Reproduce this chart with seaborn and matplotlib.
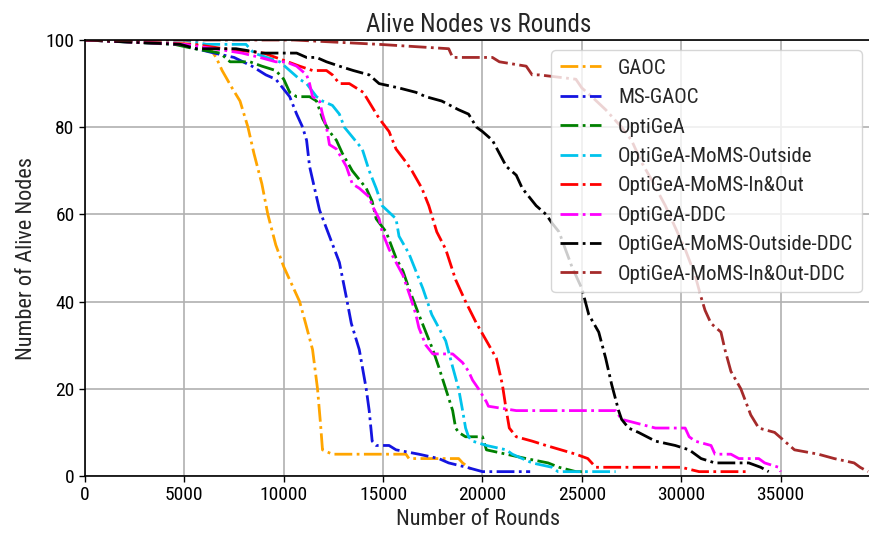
import matplotlib
matplotlib.use("Agg")
import matplotlib.pyplot as plt
from matplotlib import font_manager
import seaborn as sns
import pandas as pd

# ---------------- data ----------------
labels = ["GAOC", "MS-GAOC", "OptiGeA", "OptiGeA-MoMS-Outside", "OptiGeA-MoMS-In&Out",
          "OptiGeA-DDC", "OptiGeA-MoMS-Outside-DDC", "OptiGeA-MoMS-In&Out-DDC"]
colors = ["orange", "#1414e0", "green", "#00c3ec", "red", "magenta", "black", "brown"]

gaoc_x = [0, 5500, 6300, 6600, 6900, 7400, 7800, 8200, 8500, 8900, 9200, 9600, 10000, 10400,
          10800, 11100, 11450, 11700, 11850, 11950, 12450, 16150, 16300, 18800, 19000, 19300, 19600]
gaoc_y = [100, 99, 98, 96, 93, 89, 86, 80, 74, 67, 60, 53, 48, 44,
          40, 35, 29, 20, 12, 6, 5, 5, 4, 4, 3, 2, 1]

msgaoc_x = [0, 4800, 5600, 6500, 7500, 8400, 9100, 9600, 9950, 10300, 10650, 10950, 11150, 11300,
            11800, 12300, 12800, 13150, 13400, 13800, 14150, 14300, 14450, 14650, 15300, 15650,
            16800, 17800, 18300, 19200, 20000, 22400]
msgaoc_y = [100, 99, 98, 97, 96, 94, 92, 91, 89, 87, 83, 80, 77, 71,
            61, 55, 49, 41, 35, 29, 20, 15, 8, 7, 7, 6,
            5, 4, 3, 2, 1, 1]

opt_x = [0, 4500, 5500, 6800, 7300, 8300, 8900, 9600, 10000, 10300, 10650, 11300, 11650, 11950,
         12300, 12650, 12950, 13450, 14150, 14450, 14650, 15150, 15650, 16000, 16300, 16800, 17150,
         17500, 17800, 18150, 18500, 18650, 18800, 19150, 20000, 20200, 21200, 22200, 23300, 23850,
         24700, 25000]
opt_y = [100, 99, 98, 97, 95, 95, 94, 93, 91, 88, 87, 87, 86, 82,
         79, 77, 74, 70, 66, 63, 59, 56, 50, 47, 43, 37, 33,
         29, 25, 20, 15, 11, 10, 9, 9, 6, 5, 4, 3, 2,
         1, 1]

out_x = [0, 5000, 6100, 8100, 8500, 9800, 10300, 10800, 11150, 11650, 11950, 12450, 12800, 13050,
         13950, 14300, 14650, 14950, 15650, 15800, 16300, 16650, 17000, 17450, 18150, 18500, 18800,
         19000, 19150, 19300, 19500, 20200, 21200, 21500, 22500, 23500, 23800, 26700]
out_y = [100, 100, 99, 99, 97, 95, 93, 91, 90, 87, 86, 85, 83, 80,
         75, 70, 66, 62, 59, 55, 51, 47, 43, 37, 31, 25, 20,
         15, 11, 9, 8, 7, 6, 5, 3, 2, 1, 1]

inout_x = [0, 5500, 7000, 9000, 10800, 11450, 12150, 12450, 12800, 13300, 14000, 14800, 15300,
           15650, 16150, 16450, 16950, 17300, 17700, 18150, 18650, 19150, 19700, 20200, 20700,
           21000, 21200, 21350, 21700, 22500, 23200, 24700, 25300, 25700, 30000, 30900, 33400]
inout_y = [100, 99, 98, 97, 94, 93, 93, 92, 90, 90, 88, 82, 79,
           75, 72, 70, 66, 62, 56, 52, 45, 40, 35, 31, 27,
           21, 15, 11, 9, 8, 7, 5, 4, 2, 2, 1, 1]

ddc_x = [0, 5000, 6500, 7900, 8800, 9600, 10100, 10650, 11150, 11300, 11450, 11800, 11950, 12150,
         12300, 12650, 13150, 13450, 13800, 14300, 14450, 14800, 14950, 15300, 15650, 16000, 16150,
         16450, 16650, 16800, 17150, 17500, 18500, 19000, 19300, 19500, 19800, 20200, 20300, 21700,
         26700, 27000, 27850, 28700, 30200, 30400, 30700, 31500, 31700, 32500, 32900, 33900, 34200,
         34900, 35000]
ddc_y = [100, 99, 98, 97, 96, 95, 95, 94, 92, 90, 87, 86, 83, 80,
         76, 75, 71, 67, 66, 64, 62, 59, 56, 52, 49, 46, 44,
         40, 37, 34, 30, 28, 28, 26, 24, 22, 20, 17, 16, 15,
         15, 13, 12, 11, 11, 9, 8, 7, 5, 5, 4, 4, 3,
         2, 1]

outddc_x = [0, 4800, 5600, 7600, 8950, 10650, 11150, 11650, 12150, 12800, 13500, 14300, 14800,
            15800, 16650, 17150, 17950, 18800, 19300, 19700, 20000, 20500, 20850, 21200, 21700,
            22000, 22350, 22700, 23200, 23500, 23850, 24500, 25000, 25350, 25850, 26200, 26500,
            26850, 27000, 27350, 27850, 28700, 29700, 30400, 31000, 31700, 33400, 34000, 34400]
outddc_y = [100, 99, 98, 98, 97, 97, 96, 96, 95, 94, 93, 92, 90,
            89, 88, 87, 86, 84, 83, 80, 79, 77, 74, 71, 69,
            66, 64, 62, 60, 58, 56, 48, 43, 37, 33, 27, 21,
            15, 13, 11, 10, 8, 7, 6, 4, 3, 3, 2, 1]

inoutddc_x = [0, 10500, 14800, 18300, 18500, 20500, 20850, 22200, 22500, 22850, 24700, 25000,
              25500, 26200, 27000, 27500, 28000, 28500, 29200, 29700, 30200, 30700, 31000, 31200,
              31500, 32000, 32200, 32500, 33000, 33500, 33900, 34700, 35200, 35700, 36900, 37700,
              38700, 39000, 39400]
inoutddc_y = [100, 100, 99, 98, 96, 96, 95, 94, 92, 92, 91, 89,
              87, 84, 80, 77, 72, 68, 62, 57, 52, 46, 41, 38,
              35, 33, 29, 24, 20, 14, 11, 10, 8, 6, 5, 4,
              3, 2, 1]

series_x = [gaoc_x, msgaoc_x, opt_x, out_x, inout_x, ddc_x, outddc_x, inoutddc_x]
series_y = [gaoc_y, msgaoc_y, opt_y, out_y, inout_y, ddc_y, outddc_y, inoutddc_y]

x_ticks = [0, 5000, 10000, 15000, 20000, 25000, 30000, 35000]
y_ticks = [0, 20, 40, 60, 80, 100]

# ---------------- style ----------------
sns.set_style("ticks", {"axes.grid": True, "grid.color": "#b0b0b0",
                        "axes.edgecolor": "black", "xtick.color": "black",
                        "ytick.color": "black"})
available = {f.name for f in font_manager.fontManager.ttflist}
fam = "DejaVu Sans"
for cand in ["Liberation Sans Narrow", "DejaVu Sans Condensed", "Roboto Condensed",
             "Open Sans Condensed", "Noto Sans Condensed", "Roboto"]:
    if cand in available:
        fam = cand
        break
plt.rcParams['font.family'] = [fam, 'DejaVu Sans']
plt.rcParams['font.stretch'] = 'condensed'
narrow = fam != "DejaVu Sans"

W, H = 869, 541
fig = plt.figure(figsize=(W / 100, H / 100), dpi=100)
left, right, top, bottom = 85, 872, 40, 476
ax = fig.add_axes([left / W, (H - bottom) / H, (right - left) / W, (bottom - top) / H])

for lab, col, xs, ys in zip(labels, colors, series_x, series_y):
    df = pd.DataFrame({"Rounds": xs, "Alive": ys})
    sns.lineplot(data=df, x="Rounds", y="Alive", ax=ax, color=col, linestyle="-.",
                 linewidth=2, label=lab, sort=False, estimator=None)

ax.set_xlim(0, 39600)
ax.set_ylim(0, 100)
ax.set_xticks(x_ticks)
ax.set_yticks(y_ticks)
fs_tick = 14 if narrow else 11.5
ax.tick_params(axis="both", labelsize=fs_tick, length=4, width=1, direction="out")
ax.grid(True, color="#b0b0b0", linewidth=1.2)
for s in ax.spines.values():
    s.set_linewidth(1.2)
    s.set_color("black")
ax.set_xlabel("Number of Rounds", fontsize=16 if narrow else 13, labelpad=3)
ax.set_ylabel("Number of Alive Nodes", fontsize=16 if narrow else 13, labelpad=6)
ax.set_title("Alive Nodes vs Rounds", fontsize=18 if narrow else 15, pad=6)
leg = ax.legend(loc="upper right", fontsize=15 if narrow else 13, framealpha=0.8,
                edgecolor="#cccccc", handlelength=2.0)

fig.savefig("out.png", dpi=100)
